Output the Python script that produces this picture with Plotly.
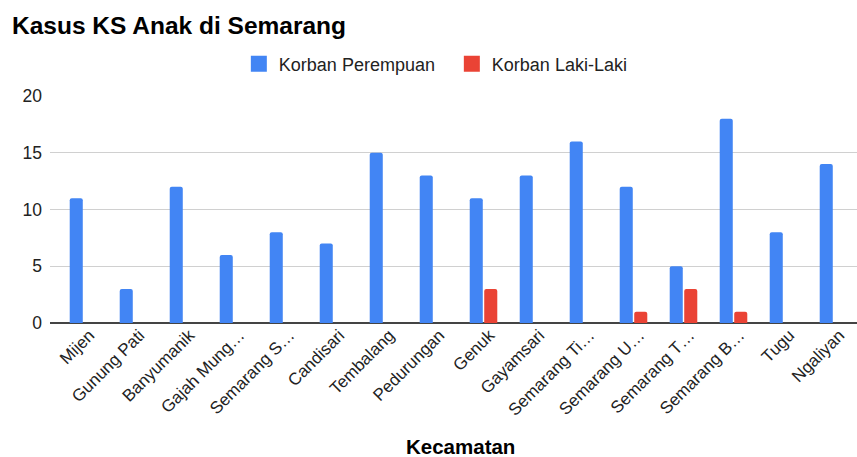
import plotly.graph_objects as go

categories = ["Mijen", "Gunung Pati", "Banyumanik", "Gajah Mungkur", "Semarang Selatan",
              "Candisari", "Tembalang", "Pedurungan", "Genuk", "Gayamsari",
              "Semarang Timur", "Semarang Utara", "Semarang Tengah", "Semarang Barat",
              "Tugu", "Ngaliyan"]
tick_labels = ["Mijen", "Gunung Pati", "Banyumanik", "Gajah Mung…", "Semarang S…",
               "Candisari", "Tembalang", "Pedurungan", "Genuk", "Gayamsari",
               "Semarang Ti…", "Semarang U…", "Semarang T…", "Semarang B…",
               "Tugu", "Ngaliyan"]
korban_perempuan = [11, 3, 12, 6, 8, 7, 15, 13, 11, 13, 16, 12, 5, 18, 8, 14]
korban_laki = [0, 0, 0, 0, 0, 0, 0, 0, 3, 0, 0, 1, 3, 1, 0, 0]
y_ticks = [0, 5, 10, 15, 20]
series_names = ["Korban Perempuan", "Korban Laki-Laki"]
series_colors = ["#4285F4", "#EA4335"]

idx = list(range(len(categories)))

fig = go.Figure()
for name, vals, col in zip(series_names, [korban_perempuan, korban_laki], series_colors):
    fig.add_trace(go.Bar(x=idx, y=vals, name=name, showlegend=False, legendgroup=name,
                         marker=dict(color=col, line=dict(width=0))))
for name, col in zip(series_names, series_colors):
    fig.add_trace(go.Scatter(x=[None], y=[None], mode="markers", name=name, legendgroup=name,
                             marker=dict(symbol="square", size=16, color=col)))

fig.update_layout(
    width=857, height=457,
    margin=dict(l=50, r=0, t=96, b=134, autoexpand=False),
    paper_bgcolor="white", plot_bgcolor="white",
    font=dict(family="Liberation Sans, Arial, sans-serif", size=18, color="#222222"),
    title=dict(text="<b>Kasus KS Anak di Semarang</b>", x=0.014, xanchor="left",
               y=0.944, yanchor="middle", font=dict(size=24.5, color="#000000")),
    barmode="group", bargap=0.42, bargroupgap=0.1, barcornerradius=2,
    showlegend=True,
    legend=dict(orientation="h", x=0.234, xanchor="left", y=1.141, yanchor="middle",
                entrywidth=168, entrywidthmode="pixels",
                font=dict(size=18, color="#222222"), traceorder="normal"),
    xaxis=dict(range=[-0.67, 15.47], tickmode="array", tickvals=idx, ticktext=tick_labels,
               tickangle=-45, showgrid=False, showline=False, ticks="", automargin=False,
               ticklabelshift=6, ticklabelstandoff=-2,
               tickfont=dict(size=17, color="#222222")),
    yaxis=dict(range=[0, 20], tickvals=y_ticks, showgrid=True, gridcolor="#d0d0d0",
               gridwidth=1, zeroline=True, zerolinecolor="#444444", zerolinewidth=1.5,
               ticks="", automargin=False, tickfont=dict(size=17.5, color="#222222"),
               ticklabelstandoff=7),
    annotations=[dict(text="<b>Kecamatan</b>", xref="paper", yref="paper",
                      x=0.509, y=-0.546, xanchor="center", yanchor="middle",
                      showarrow=False, font=dict(size=20.5, color="#000000"))],
)

fig.write_html("out.html", config={"displayModeBar": False},
               post_script="document.body.style.margin='0px';")
